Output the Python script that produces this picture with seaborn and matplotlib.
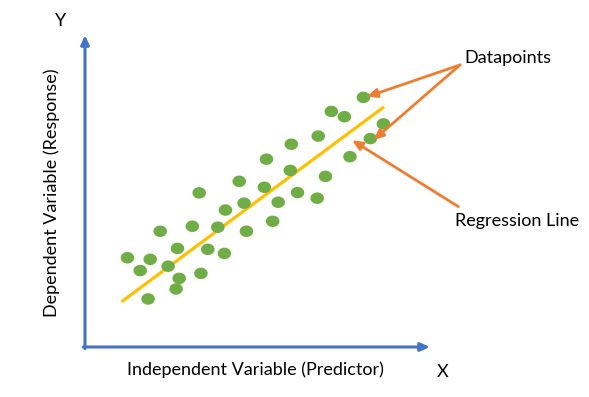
import numpy as np
import pandas as pd
import matplotlib
matplotlib.use("Agg")
import matplotlib.pyplot as plt
from matplotlib.path import Path
import seaborn as sns

# ---- data (arbitrary units) ----
x_vals = [12.3, 16.0, 18.3, 18.9, 21.8, 24.1, 26.4, 26.8, 27.3, 31.1, 33.1, 33.6,
          35.6, 38.5, 40.4, 40.7, 44.7, 46.1, 46.8, 52.0, 52.6, 54.4, 56.0, 59.8,
          59.5, 61.6, 67.3, 67.6, 69.7, 71.4, 75.2, 76.8, 80.7, 82.7, 86.5]
y_vals = [28.6, 24.5, 15.4, 28.1, 37.1, 25.9, 18.6, 31.6, 22.0, 38.7, 49.4, 23.6,
          31.3, 38.4, 30.0, 43.9, 53.1, 46.1, 37.1, 51.2, 60.2, 40.3, 46.4, 65.0,
          56.6, 49.5, 47.7, 67.6, 54.7, 75.5, 73.8, 61.0, 80.0, 66.8, 71.5]
line_x = [10.6, 86.7]
line_y = [14.5, 77.0]

x_label = "Independent Variable (Predictor)"
y_label = "Dependent Variable (Response)"
ann_points = "Datapoints"
ann_line = "Regression Line"

df = pd.DataFrame({"x": x_vals, "y": y_vals})
df_line = pd.DataFrame({"x": line_x, "y": line_y})

sns.set_theme(style="white")
plt.rcParams["font.family"] = ["Lato", "DejaVu Sans"]

W, H = 589, 397
fig = plt.figure(figsize=(W / 100, H / 100), dpi=100)
ax = fig.add_axes([85 / W, 50 / H, 345 / W, 312 / H])
ax.set_xlim(0, 100)
ax.set_ylim(0, 100)
ax.axis("off")

blue = "#4472C4"
green = "#70AD47"
yellow = "#FFC000"
orange = "#ED7D31"

# axes arrows
ax.annotate("", xy=(0, 1), xytext=(0, -0.005), xycoords="axes fraction",
            arrowprops=dict(arrowstyle="-|>,head_length=0.45,head_width=0.2",
                            color=blue, lw=2.2, shrinkA=0, shrinkB=0),
            annotation_clip=False)
ax.annotate("", xy=(1, 0), xytext=(-0.005, 0), xycoords="axes fraction",
            arrowprops=dict(arrowstyle="-|>,head_length=0.45,head_width=0.2",
                            color=blue, lw=2.2, shrinkA=0, shrinkB=0),
            annotation_clip=False)

# regression line
sns.lineplot(data=df_line, x="x", y="y", color=yellow, linewidth=2.3, ax=ax,
             solid_capstyle="butt")

# elliptical dot marker
t = np.linspace(0, 2 * np.pi, 60)
ell = Path(np.column_stack([np.cos(t), 0.85 * np.sin(t)]), closed=True)
sns.scatterplot(data=df, x="x", y="y", marker=ell, s=95, color=green,
                edgecolor="none", linewidth=0, ax=ax, zorder=3)
ax.set_xlabel("")
ax.set_ylabel("")

# annotation arrows
def arrow(tail, tip):
    ax.annotate("", xy=tip, xytext=tail, xycoords="data",
                arrowprops=dict(arrowstyle="-|>,head_length=0.5,head_width=0.22",
                                color=orange, lw=2.0, shrinkA=0, shrinkB=0),
                annotation_clip=False)

arrow((108.7, 90.4), (81.7, 80.2))
arrow((108.7, 90.4), (83.6, 66.3))
arrow((108.2, 45.0), (77.4, 66.3))

def ftext(px, py, s, **kw):
    fig.text(px / W, 1 - py / H, s, ha="center", va="center",
             color="#000000", fontsize=13, **kw)

ftext(508, 58, ann_points)
ftext(517, 221, ann_line)
ftext(255, 370, x_label)
ftext(52, 193, y_label, rotation=90)
ftext(61, 21, "Y")
ftext(443, 372, "X")

fig.savefig("out.png", dpi=100)
